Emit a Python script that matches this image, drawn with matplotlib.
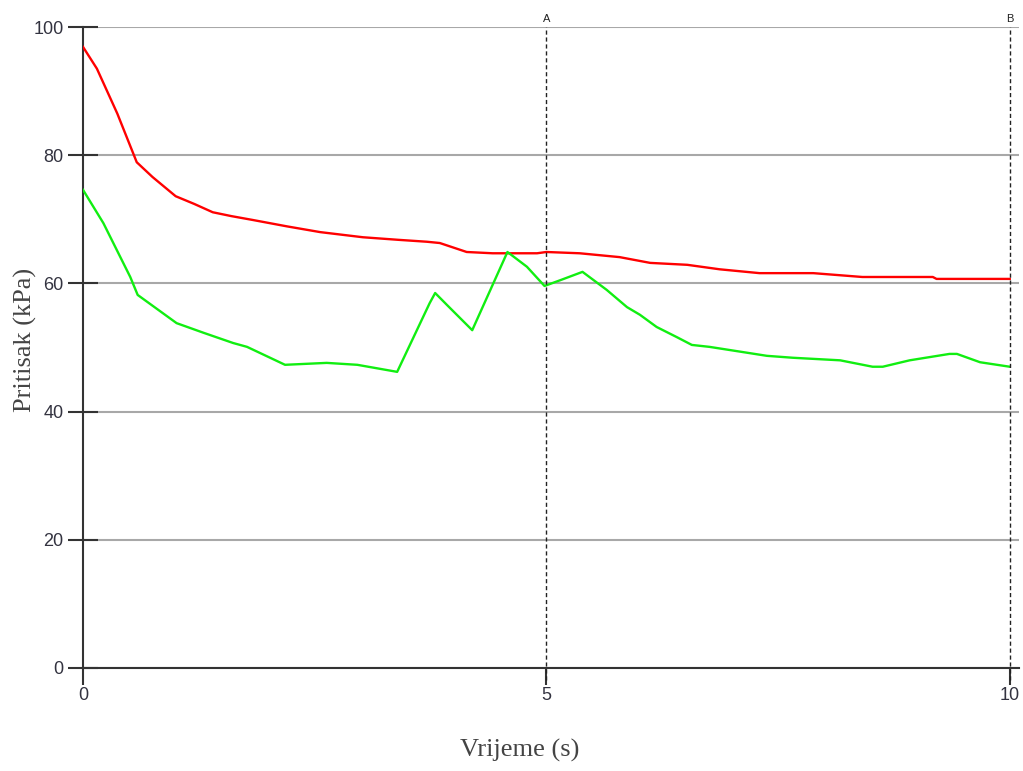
import matplotlib
matplotlib.use("Agg")
import matplotlib.pyplot as plt

# Data
red_t = [0, 0.15, 0.37, 0.58, 0.75, 1.0, 1.2, 1.4, 1.6, 1.83, 2.2, 2.56, 3.02, 3.4, 3.71, 3.85,
         4.14, 4.42, 4.9, 5.0, 5.36, 5.79, 6.12, 6.52, 6.87, 7.3, 7.88, 8.41, 9.17, 9.21, 10.0]
red_v = [96.9, 93.5, 86.5, 78.9, 76.6, 73.6, 72.4, 71.1, 70.5, 69.9, 68.9, 68.0, 67.2, 66.8, 66.5, 66.3,
         64.9, 64.7, 64.7, 64.9, 64.7, 64.1, 63.2, 62.9, 62.2, 61.6, 61.6, 61.0, 61.0, 60.7, 60.7]

green_t = [0, 0.22, 0.51, 0.59, 0.8, 1.01, 1.3, 1.62, 1.77, 2.18, 2.63, 2.96, 3.39, 3.74, 3.80, 3.93,
           4.20, 4.58, 4.79, 4.98, 5.15, 5.39, 5.65, 5.87, 6.01, 6.19, 6.41, 6.57, 6.76, 7.38, 7.66,
           8.17, 8.52, 8.63, 8.92, 9.35, 9.43, 9.68, 10.0]
green_v = [74.6, 69.4, 61.0, 58.2, 56.0, 53.8, 52.3, 50.7, 50.1, 47.3, 47.6, 47.3, 46.2, 56.9, 58.5, 56.6,
           52.7, 64.9, 62.6, 59.6, 60.5, 61.8, 59.0, 56.3, 55.1, 53.2, 51.6, 50.4, 50.1, 48.7, 48.4,
           48.0, 47.0, 47.0, 48.0, 49.0, 49.0, 47.7, 47.0]

x_ticks = [0, 5, 10]
y_ticks = [0, 20, 40, 60, 80, 100]
cursor_pos = [5, 10]
cursor_labels = ["A", "B"]

W, H = 1023, 771
fig = plt.figure(figsize=(W / 100, H / 100), dpi=100)
left, right, top, bottom = 83, 1019, 27, 668
ax = fig.add_axes([left / W, 1 - bottom / H, (right - left) / W, (bottom - top) / H])
ax.set_xlim(0, 10.1)
ax.set_ylim(0, 100)

for s in ["top", "right"]:
    ax.spines[s].set_visible(False)
for s in ["left", "bottom"]:
    ax.spines[s].set_color("#333333")
    ax.spines[s].set_linewidth(1.5)

ax.set_yticks(y_ticks)
ax.set_xticks(x_ticks)
ax.yaxis.grid(True, color="#a8a8a8", linewidth=1.5)
ax.set_axisbelow(True)
ax.tick_params(axis="y", direction="inout", length=22, width=1.5, color="#333333",
               labelsize=13, labelcolor="#333340", pad=3)
ax.tick_params(axis="x", direction="out", length=12, width=1.5, color="#333333",
               labelsize=13, labelcolor="#333340", pad=2)
for lab in ax.get_xticklabels() + ax.get_yticklabels():
    lab.set_fontfamily("Liberation Sans")

ax.plot(red_t, red_v, color="#ff0000", linewidth=1.7, zorder=3)
ax.plot(green_t, green_v, color="#11ee11", linewidth=1.7, zorder=3)

for xp, lab in zip(cursor_pos, cursor_labels):
    ax.plot([xp, xp], [-1.9, 100], color="#222222", linewidth=1.0,
            linestyle=(0, (3, 2)), clip_on=False, zorder=4)
    ax.text(xp, 100.4, lab, ha="center", va="bottom", fontsize=8,
            family="Liberation Sans", color="#222222")

fig.text(520 / W, 1 - 750 / H, "Vrijeme (s)", ha="center", va="center", fontsize=19,
         family="Liberation Serif", color="#444444")
fig.text(25 / W, 1 - 340 / H, "Pritisak (kPa)", ha="center", va="center", rotation=90,
         fontsize=19, family="Liberation Serif", color="#444444")

fig.savefig("out.png", dpi=100)
